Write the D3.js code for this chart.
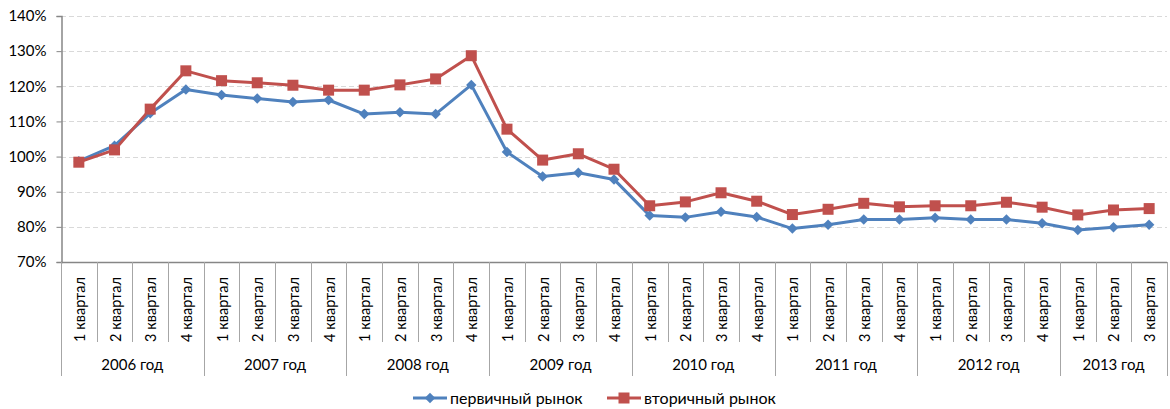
<!DOCTYPE html>
<html>
<head>
<meta charset="utf-8">
<script src="https://cdn.jsdelivr.net/npm/d3@7"></script>
<style>
  body { margin: 0; background: #fff; }
  text { font-family: Lato, "Open Sans", sans-serif; fill: #000; }
</style>
</head>
<body>
<div id="chart"></div>
<script>
// data
const years = ["2006 год", "2007 год", "2008 год", "2009 год", "2010 год", "2011 год", "2012 год", "2013 год"];
const quartersPerYear = [4, 4, 4, 4, 4, 4, 4, 3];
const quarterLabels = ["1 квартал", "2 квартал", "3 квартал", "4 квартал"];
const primary = [98.7, 103.1, 112.3, 119.1, 117.5, 116.5, 115.5, 116.1, 112.1, 112.6, 112.1, 120.4,
  101.3, 94.3, 95.4, 93.5, 83.2, 82.7, 84.3, 82.8, 79.5, 80.6, 82.1, 82.1, 82.6, 82.1, 82.1, 81.0, 79.1, 79.9, 80.6];
const secondary = [98.4, 101.9, 113.5, 124.4, 121.6, 121.0, 120.3, 118.9, 118.9, 120.4, 122.1, 128.7,
  107.8, 99.0, 100.8, 96.4, 86.0, 87.1, 89.7, 87.3, 83.5, 85.0, 86.7, 85.7, 86.0, 86.0, 87.0, 85.6, 83.4, 84.8, 85.2];
const yTicks = [70, 80, 90, 100, 110, 120, 130, 140];
const seriesNames = ["первичный рынок", "вторичный рынок"];

const width = 1170, height = 409;
const plotLeft = 61, plotRight = 1167, plotTop = 16, plotBottom = 262;

// build category list
const cats = [];
quartersPerYear.forEach((n, yi) => {
  for (let q = 0; q < n; q++) cats.push({ year: yi, q: q, label: quarterLabels[q] });
});

const svg = d3.select("#chart").append("svg")
  .attr("width", width).attr("height", height);

const x = d3.scaleBand().domain(d3.range(cats.length)).range([plotLeft, plotRight]);
const y = d3.scaleLinear().domain([70, 140]).range([plotBottom, plotTop]);
const cx = i => x(i) + x.bandwidth() / 2;

// gridlines
svg.append("g").selectAll("line")
  .data(yTicks.filter(t => t > 70))
  .join("line")
  .attr("x1", plotLeft).attr("x2", plotRight)
  .attr("y1", d => Math.round(y(d)) + 0.5).attr("y2", d => Math.round(y(d)) + 0.5)
  .attr("stroke", "#d9d9d9").attr("stroke-dasharray", "5,3");

// y axis
const yAxis = svg.append("g")
  .attr("transform", `translate(${plotLeft + 0.5},0)`)
  .call(d3.axisLeft(y).tickValues(yTicks).tickSize(5).tickFormat(d => d + "%"));
yAxis.select(".domain").attr("stroke", "#868686").attr("stroke-width", 1.5);
yAxis.selectAll(".tick line").attr("stroke", "#868686");
yAxis.selectAll(".tick text").attr("x", -15).style("font-size", "15px")
  .style("font-family", "Lato, sans-serif").attr("fill", "#000");

// x axis baseline
svg.append("line")
  .attr("x1", plotLeft).attr("x2", plotRight)
  .attr("y1", plotBottom + 0.5).attr("y2", plotBottom + 0.5)
  .attr("stroke", "#868686").attr("stroke-width", 1.5);

// category separators
const yearStarts = new Set();
let acc = 0;
quartersPerYear.forEach(n => { yearStarts.add(acc); acc += n; });
yearStarts.add(cats.length);
svg.append("g").selectAll("line")
  .data(d3.range(cats.length + 1))
  .join("line")
  .attr("x1", i => Math.round(i < cats.length ? x(i) : plotRight) + 0.5)
  .attr("x2", i => Math.round(i < cats.length ? x(i) : plotRight) + 0.5)
  .attr("y1", plotBottom)
  .attr("y2", i => yearStarts.has(i) ? 376 : 342)
  .attr("stroke", "#a6a6a6").attr("stroke-width", 1);

// quarter labels
svg.append("g").selectAll("text")
  .data(cats)
  .join("text")
  .attr("transform", (d, i) => `translate(${cx(i) + 6},277) rotate(-90)`)
  .attr("text-anchor", "end")
  .style("font-size", "14.5px")
  .text(d => d.label);

// year labels
acc = 0;
const yearPos = quartersPerYear.map((n, i) => {
  const s = acc; acc += n;
  return { name: years[i], mid: (x(s) + (s + n < cats.length ? x(s + n) : plotRight)) / 2 };
});
svg.append("g").selectAll("text")
  .data(yearPos)
  .join("text")
  .attr("x", d => d.mid).attr("y", 370)
  .attr("text-anchor", "middle")
  .style("font-size", "15px")
  .text(d => d.name);

// lines
const line = d3.line().x((d, i) => cx(i)).y(d => y(d));
const colors = ["#4f81bd", "#c0504d"];
[primary, secondary].forEach((s, k) => {
  svg.append("path").datum(s)
    .attr("d", line).attr("fill", "none")
    .attr("stroke", colors[k]).attr("stroke-width", 3).attr("stroke-linejoin", "round");
});

// markers
svg.append("g").selectAll("path")
  .data(primary)
  .join("path")
  .attr("transform", (d, i) => `translate(${cx(i)},${y(d)})`)
  .attr("d", d3.symbol(d3.symbolDiamond2, 70))
  .attr("fill", colors[0]);
svg.append("g").selectAll("rect")
  .data(secondary)
  .join("rect")
  .attr("x", (d, i) => cx(i) - 5.5).attr("y", d => y(d) - 5.5)
  .attr("width", 11).attr("height", 11)
  .attr("fill", colors[1]);

// legend
const legend = svg.append("g").attr("transform", "translate(0,398)");
const lx = [413, 607];
seriesNames.forEach((name, k) => {
  const g = legend.append("g").attr("transform", `translate(${lx[k]},0)`);
  g.append("line").attr("x1", 0).attr("x2", 34).attr("stroke", colors[k]).attr("stroke-width", 3);
  if (k === 0) {
    g.append("path").attr("transform", "translate(17,0)")
      .attr("d", d3.symbol(d3.symbolDiamond2, 70)).attr("fill", colors[k]);
  } else {
    g.append("rect").attr("x", 11.5).attr("y", -5.5).attr("width", 11).attr("height", 11).attr("fill", colors[k]);
  }
  g.append("text").attr("x", 37).attr("y", 5.5).style("font-size", "16px").text(name);
});
</script>
</body>
</html>
